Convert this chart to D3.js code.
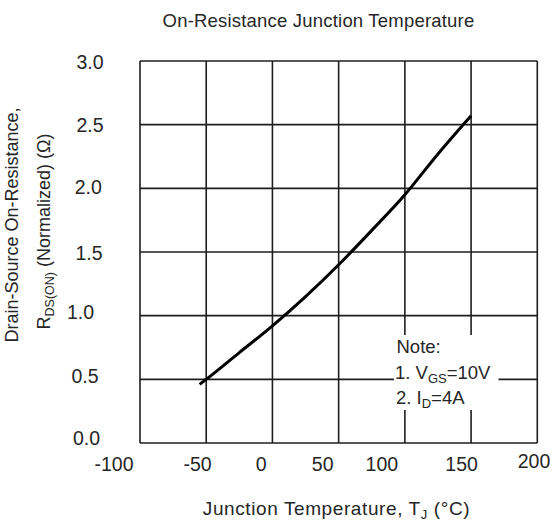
<!DOCTYPE html>
<html>
<head>
<meta charset="utf-8">
<script src="https://cdn.jsdelivr.net/npm/d3@7"></script>
<style>
  html, body { margin: 0; padding: 0; background: #fff; }
  svg { display: block; font-family: "Liberation Sans", Arial, sans-serif; }
</style>
</head>
<body>
<svg id="chart" width="558" height="525"></svg>
<script>
// ---- data ----
const tempC = [-55, -50, -25, 0, 25, 50, 75, 100, 125, 150];
const rdsNorm = [0.46, 0.50, 0.71, 0.92, 1.15, 1.40, 1.67, 1.95, 2.27, 2.57];
const xTicks = [-100, -50, 0, 50, 100, 150, 200];
const yTicks = [0.0, 0.5, 1.0, 1.5, 2.0, 2.5, 3.0];
const xTickLabels = ["-100", "-50", "0", "50", "100", "150", "200"];
const yTickLabels = ["0.0", "0.5", "1.0", "1.5", "2.0", "2.5", "3.0"];

// ---- layout (label placement quirks of the original) ----
const xLabelDx = [-26, -8.7, -11.3, -16, -23, -9.5, -3.3];
const xLabelBase = [471, 471, 471, 471, 471, 471, 468];
const yLabelDx = [-3.4, -5, -9.4, -1, -1.7, 0, 0];
const yLabelDy = [-5, -2.8, -3.3, 0.7, -1, 0.7, 1];

const svg = d3.select("#chart");
const x = d3.scaleLinear().domain([-100, 200]).range([140, 537.3]);
const y = d3.scaleLinear().domain([0, 3]).range([443, 61]);

const ink = "#1e1e1e";
const txt = "#262626";

// grid
const g = svg.append("g");
g.selectAll(".vg").data(xTicks).enter().append("line")
  .attr("x1", d => x(d)).attr("x2", d => x(d))
  .attr("y1", y(0)).attr("y2", y(3))
  .attr("stroke", ink).attr("stroke-width", 1.6);
g.selectAll(".hg").data(yTicks).enter().append("line")
  .attr("x1", x(-100)).attr("x2", x(200))
  .attr("y1", d => y(d)).attr("y2", d => y(d))
  .attr("stroke", ink).attr("stroke-width", 1.6);

// curve
const line = d3.line().x((d, i) => x(tempC[i])).y(d => y(d)).curve(d3.curveMonotoneX);
svg.append("path").datum(rdsNorm)
  .attr("d", line).attr("fill", "none")
  .attr("stroke", "#000").attr("stroke-width", 3);

// note box (white background)
svg.append("rect").attr("x", 394).attr("y", 335).attr("width", 104.5).attr("height", 75)
  .attr("fill", "#fff");
const note = svg.append("text").attr("fill", txt).attr("font-size", 18.5);
note.append("tspan").attr("x", 396.5).attr("y", 353).text("Note:");
const l1 = svg.append("text").attr("fill", txt).attr("font-size", 18.5).attr("x", 395).attr("y", 378.5);
l1.append("tspan").text("1. V");
l1.append("tspan").attr("font-size", 13).attr("dy", 4).text("GS");
l1.append("tspan").attr("dy", -4).text("=10V");
const l2 = svg.append("text").attr("fill", txt).attr("font-size", 18.5).attr("x", 396).attr("y", 404);
l2.append("tspan").text("2. I");
l2.append("tspan").attr("font-size", 13).attr("dy", 4).text("D");
l2.append("tspan").attr("dy", -4).text("=4A");

// x tick labels
svg.selectAll(".xl").data(xTicks).enter().append("text")
  .attr("x", (d, i) => x(d) + xLabelDx[i])
  .attr("y", (d, i) => xLabelBase[i])
  .attr("text-anchor", "middle").attr("font-size", 19.5).attr("fill", txt)
  .text((d, i) => xTickLabels[i]);

// y tick labels
svg.selectAll(".yl").data(yTicks).enter().append("text")
  .attr("x", (d, i) => 103.5 + yLabelDx[i])
  .attr("y", (d, i) => y(d) + yLabelDy[i])
  .attr("dy", "0.35em")
  .attr("text-anchor", "end").attr("font-size", 19.5).attr("fill", txt)
  .text((d, i) => yTickLabels[i]);

// title
svg.append("text").attr("x", 318.5).attr("y", 26.5).attr("text-anchor", "middle")
  .attr("font-size", 18.5).attr("letter-spacing", 0.2).attr("fill", txt)
  .text("On-Resistance Junction Temperature");

// x axis title
const xt = svg.append("text").attr("x", 336.5).attr("y", 515).attr("text-anchor", "middle")
  .attr("font-size", 19).attr("letter-spacing", 0.6).attr("fill", txt);
xt.append("tspan").text("Junction Temperature, T");
xt.append("tspan").attr("font-size", 13).attr("dy", 4).text("J");
xt.append("tspan").attr("dy", -4).text(" (°C)");

// y axis title (two rotated lines)
svg.append("text").attr("transform", "translate(18.3,225) rotate(-90)")
  .attr("text-anchor", "middle").attr("font-size", 18).attr("fill", txt)
  .text("Drain-Source On-Resistance,");
const yt2 = svg.append("text").attr("transform", "translate(50,231.5) rotate(-90)")
  .attr("text-anchor", "middle").attr("font-size", 18).attr("fill", txt);
yt2.append("tspan").text("R");
yt2.append("tspan").attr("font-size", 12.5).attr("dy", 4).text("DS(ON)");
yt2.append("tspan").attr("dy", -4).text(" (Normalized) (Ω)");
</script>
</body>
</html>
